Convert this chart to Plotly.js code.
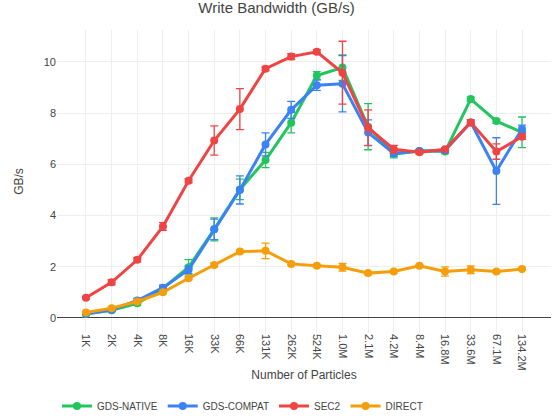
<!DOCTYPE html>
<html><head><meta charset="utf-8">
<script src="https://cdn.plot.ly/plotly-3.0.1.min.js"></script>
<style>html,body{margin:0;padding:0;background:#fff}#chart{width:553px;height:419px}</style>
</head><body><div id="chart"></div>
<script>
const categories = ["1K","2K","4K","8K","16K","33K","66K","131K","262K","524K","1.0M","2.1M","4.2M","8.4M","16.8M","33.6M","67.1M","134.2M"];

const gdsNative    = [0.15,0.30,0.57,1.15,1.98,3.46,5.02,6.17,7.63,9.47,9.78,7.47,6.40,6.52,6.50,8.55,7.69,7.25];
const gdsNativeErr = [0.03,0.05,0.08,0.10,0.30,0.45,0.40,0.30,0.40,0.15,0.50,0.90,0.15,0.06,0.08,0.08,0.08,0.60];
const gdsCompat    = [0.16,0.31,0.68,1.18,1.88,3.46,5.00,6.78,8.13,9.09,9.15,7.24,6.43,6.52,6.54,7.64,5.74,7.38];
const gdsCompatErr = [0.03,0.05,0.08,0.10,0.15,0.40,0.55,0.45,0.33,0.20,1.10,0.50,0.12,0.06,0.06,0.10,1.30,0.15];
const sec2         = [0.79,1.39,2.27,3.57,5.36,6.93,8.16,9.74,10.21,10.40,9.58,7.43,6.59,6.47,6.59,7.64,6.50,7.08];
const sec2Err      = [0.05,0.10,0.08,0.15,0.08,0.57,0.80,0.08,0.12,0.08,1.23,0.70,0.15,0.06,0.06,0.10,0.30,0.10];
const direct       = [0.21,0.38,0.64,1.00,1.55,2.07,2.59,2.62,2.11,2.04,1.98,1.75,1.81,2.04,1.81,1.88,1.81,1.91];
const directErr    = [0.02,0.03,0.04,0.05,0.06,0.08,0.06,0.30,0.05,0.05,0.15,0.06,0.06,0.05,0.18,0.15,0.05,0.04];

const seriesNames  = ["GDS-NATIVE","GDS-COMPAT","SEC2","DIRECT"];
const seriesColors = ["#22c55e","#3b82f6","#ef4444","#f59e0b"];
const seriesValues = [gdsNative, gdsCompat, sec2, direct];
const seriesErrors = [gdsNativeErr, gdsCompatErr, sec2Err, directErr];

const traces = seriesNames.map((name, i) => ({
  type: "scatter",
  mode: "lines+markers",
  name: name,
  x: categories,
  y: seriesValues[i],
  line: {color: seriesColors[i], width: 3},
  marker: {color: seriesColors[i], size: 8},
  error_y: {type: "data", array: seriesErrors[i], visible: true, color: seriesColors[i], thickness: 1.3, width: 4}
}));

const layout = {
  width: 553, height: 419,
  margin: {l: 57, r: 2, t: 30, b: 86},
  paper_bgcolor: "#fff", plot_bgcolor: "#fff",
  font: {family: "'Liberation Sans', Arial, sans-serif", color: "#444", size: 12},
  title: {text: "Write Bandwidth (GB/s)", font: {size: 15, color: "#444"}, x: 0.5, xanchor: "center", y: 0.995, yanchor: "top"},
  xaxis: {
    type: "category",
    range: [-1.13, 18.13],
    tickangle: 90,
    gridcolor: "#eee",
    showline: false,
    zeroline: false,
    automargin: false,
    tickfont: {size: 11},
    title: {text: "Number of Particles", font: {size: 12}, standoff: 0}
  },
  yaxis: {
    range: [-0.59, 11.25],
    tickvals: [0,2,4,6,8,10],
    gridcolor: "#eee",
    zeroline: true,
    zerolinecolor: "#444",
    zerolinewidth: 1,
    automargin: false,
    tickfont: {size: 11},
    title: {text: "GB/s", font: {size: 12}}
  },
  legend: {orientation: "h", x: 0.0, xanchor: "left", yref: "container", y: 0.031, yanchor: "middle", font: {size: 10}, itemwidth: 30},
  showlegend: true
};

Plotly.newPlot("chart", traces, layout, {displayModeBar: false, staticPlot: true});
</script>
</body></html>
